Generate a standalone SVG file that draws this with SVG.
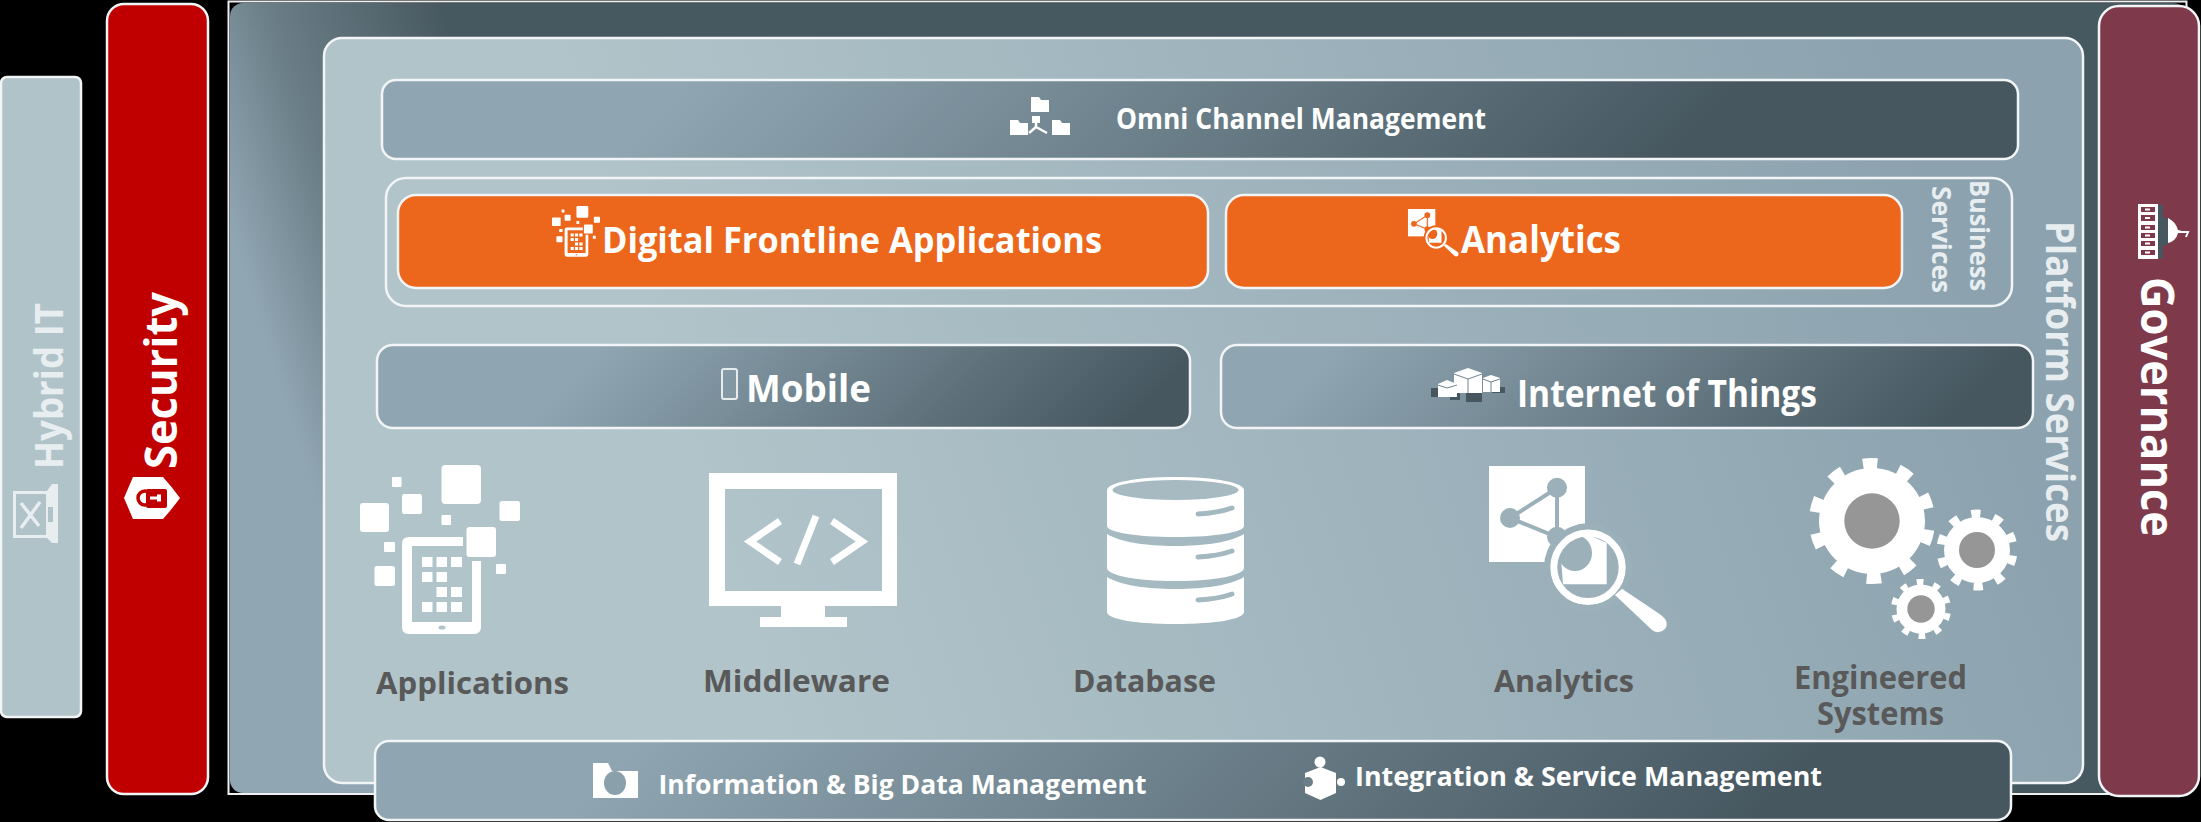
<svg xmlns="http://www.w3.org/2000/svg" xmlns:xlink="http://www.w3.org/1999/xlink" width="2201" height="822" viewBox="0 0 2201 822">
<style>
text{font-family:"Open Sans","Noto Sans","Liberation Sans",sans-serif;font-weight:700;fill:#fff}
.box{stroke:#f2f4f5;stroke-width:2.5}
.lab{fill:#595959;font-weight:700}
.w{fill:#fff}
.hub{fill:#969696}
.soft{fill:#e8eef0}
</style>
<defs>
<linearGradient id="gOuter" gradientUnits="userSpaceOnUse" x1="143" y1="-45" x2="400" y2="-127"><stop offset="0" stop-color="#90a6b2"/><stop offset=".37" stop-color="#6b7f88"/><stop offset=".95" stop-color="#4a5b63"/><stop offset="1" stop-color="#465860"/></linearGradient>
<linearGradient id="gInner" gradientUnits="userSpaceOnUse" x1="700" y1="500" x2="1900" y2="100"><stop offset="0" stop-color="#b1c4ca"/><stop offset="1" stop-color="#8ca3af"/></linearGradient>
<linearGradient id="gOmni" gradientUnits="userSpaceOnUse" x1="600" y1="170" x2="1130" y2="700"><stop offset="0" stop-color="#8fa6b2"/><stop offset="1" stop-color="#465760"/></linearGradient>
<linearGradient id="gMob" gradientUnits="userSpaceOnUse" x1="700" y1="250" x2="1000" y2="550"><stop offset="0" stop-color="#8fa6b2"/><stop offset="1" stop-color="#465760"/></linearGradient>
<linearGradient id="gIot" gradientUnits="userSpaceOnUse" x1="1300" y1="380" x2="1645" y2="725"><stop offset="0" stop-color="#8fa6b2"/><stop offset="1" stop-color="#465760"/></linearGradient>
<linearGradient id="gBot" gradientUnits="userSpaceOnUse" x1="600" y1="770" x2="1205" y2="1375"><stop offset="0" stop-color="#8fa6b2"/><stop offset="1" stop-color="#465760"/></linearGradient>
<g id="appIcon">
<g class="w">
<rect x="441.5" y="465" width="39.5" height="39" rx="4"/>
<rect x="392" y="477" width="9.500" height="10" rx="1"/>
<rect x="402" y="494" width="20" height="20" rx="2.500"/>
<rect x="360" y="503" width="29" height="29" rx="3"/>
<rect x="499.500" y="501" width="20.500" height="20" rx="2.500"/>
<rect x="441.500" y="515" width="9.500" height="10" rx="1"/>
<rect x="466.500" y="527" width="29.500" height="30" rx="3"/>
<rect x="384" y="542" width="11" height="10" rx="1"/>
<rect x="374.500" y="566" width="20.500" height="20" rx="2.500"/>
<rect x="496" y="564" width="10" height="10" rx="1"/>
<path d="M463 537H409Q402 537 402 544V627Q402 634 409 634H474Q481 634 481 627V561H472V622H412V546H463Z"/>
<path d="M422 557h10.500v10h-10.500zM436.500 557h10.500v10h-10.500zM451 557h11v10h-11zM422 572h10.500v10h-10.500zM436.500 572h10.500v10h-10.500zM436.500 587h10.500v10h-10.500zM451 587h11v10h-11zM422 602h10.500v10h-10.500zM436.500 602h10.500v10h-10.500zM451 602h11v10h-11z"/>
</g>
<ellipse cx="442" cy="627.500" rx="3.500" ry="2" fill="currentColor"/>
</g>
<g id="anaIcon">
<rect class="w" x="1489" y="466" width="96" height="96"/>
<path d="M1557 488L1510 518L1557 537Z" fill="none" stroke="currentColor" stroke-width="4"/>
<g fill="currentColor"><circle cx="1557" cy="487.700" r="10"/><circle cx="1510" cy="518" r="10"/><circle cx="1557" cy="536.700" r="10"/></g>
<circle cx="1588" cy="567.300" r="44" fill="currentColor"/>
<path class="w" d="M1563 584.300H1606.700V543L1585 533L1560 545Z"/>
<ellipse cx="1575" cy="553" rx="17" ry="18" fill="currentColor"/>
<circle cx="1588" cy="567.300" r="34.200" fill="none" stroke="#fff" stroke-width="7"/>
<path class="w" d="M1622 588.700L1661 615Q1670 622 1665 629Q1659 635 1652 630L1615 595Z"/>
</g>
</defs>
<rect width="2201" height="822" fill="#000"/>

<g id="hybrid-it">
<rect class="box" x="1" y="77" width="80" height="640" rx="6" fill="#b0c3c9" stroke-width="2"/>
<path class="soft" fill-rule="evenodd" d="M13 491H47L52 484H58V543H52L47 538H13ZM16 494V535H46V494Z"/>
<rect x="48" y="507" width="5" height="15" fill="#b0c3c9"/>
<path d="M21 528L40 502M21 503L39 526" stroke="#e8eef0" stroke-width="3.500" fill="none"/>
<text class="soft" transform="translate(63 469) rotate(-90)" font-size="39" textLength="166" lengthAdjust="spacingAndGlyphs">Hybrid IT</text>
</g>

<g id="security">
<rect class="box" x="107" y="4" width="101" height="790" rx="17" fill="#c00000"/>
<path class="w" d="M124 498L133 477H163Q172 487 180 498Q172 509 163 519H133Z"/>
<rect x="146" y="489" width="21" height="19" rx="2" fill="#c00000"/>
<circle cx="145" cy="498" r="7" fill="none" stroke="#c00000" stroke-width="3.500"/>
<path class="w" d="M150 496.500h7v-2h4v7h-4v-2h-7z"/>
<text transform="translate(177 469) rotate(-90)" font-size="44" textLength="177" lengthAdjust="spacingAndGlyphs">Security</text>
</g>

<g id="outer-frame">
<rect x="228.500" y="1.500" width="1958" height="792.500" fill="none" stroke="#eef0f1" stroke-width="2"/>
<rect x="230" y="3" width="1956" height="790" rx="13" fill="url(#gOuter)"/>
</g>

<g id="platform-services">
<rect class="box" x="324" y="38" width="1759" height="745" rx="18" fill="url(#gInner)"/>
<text class="soft" transform="translate(2046 221) rotate(90)" font-size="39" textLength="321" lengthAdjust="spacingAndGlyphs">Platform Services</text>
</g>

<g id="omni-channel">
<rect class="box" x="382" y="80" width="1636" height="79" rx="14" fill="url(#gOmni)"/>
<path class="w" d="M1031 97h8l2 3h8v12h-18zM1010 120h8l2 3h8v12h-18zM1052 120h8l2 3h8v12h-18z"/>
<path class="w" d="M1032 116h8v7h-8z"/>
<path d="M1036 122V127M1029 133L1036 127L1047 133" fill="none" stroke="#fff" stroke-width="2.500"/>
<text x="1116" y="129" font-size="29" textLength="370" lengthAdjust="spacingAndGlyphs">Omni Channel Management</text>
</g>

<g id="business-services">
<rect class="box" x="386" y="178" width="1626" height="128" rx="20" fill="none"/>
<text class="soft" transform="translate(1970 180) rotate(90)" font-size="27" textLength="111" lengthAdjust="spacingAndGlyphs">Business</text>
<text class="soft" transform="translate(1932 186) rotate(90)" font-size="27" textLength="107" lengthAdjust="spacingAndGlyphs">Services</text>
</g>

<g id="digital-frontline">
<rect class="box" x="398" y="195" width="810" height="93" rx="18" fill="#ec661c"/>
<use xlink:href="#appIcon" href="#appIcon" transform="translate(444 66.500) scale(.3)" color="#ec661c"/>
<text x="602" y="253" font-size="36" textLength="500" lengthAdjust="spacingAndGlyphs">Digital Frontline Applications</text>
</g>

<g id="analytics-service">
<rect class="box" x="1226" y="195" width="676" height="93" rx="18" fill="#ec661c"/>
<use xlink:href="#anaIcon" href="#anaIcon" transform="translate(983.600 76.200) scale(.285)" color="#ec661c"/>
<text x="1461" y="253" font-size="37" textLength="160" lengthAdjust="spacingAndGlyphs">Analytics</text>
</g>

<g id="mobile">
<rect class="box" x="377" y="345" width="813" height="83" rx="16" fill="url(#gMob)"/>
<rect x="722" y="369" width="15" height="30" rx="2" fill="#90a6b2" fill-opacity=".4" stroke="#e6ebee" stroke-width="2"/>
<text x="746" y="402" font-size="37" textLength="125" lengthAdjust="spacingAndGlyphs">Mobile</text>
</g>

<g id="iot">
<rect class="box" x="1221" y="345" width="812" height="83" rx="16" fill="url(#gIot)"/>
<path fill="#46575f" d="M1431 388h10v9h-10zM1466 393h16v9h-16zM1492 387h13v6h-13zM1450 392h10v8h-10z"/>
<path class="w" d="M1454 373L1468 368L1482 373V393H1454ZM1438 384L1447 380L1457 384V397H1438ZM1483 378L1491 375L1500 378V392H1483Z"/>
<path d="M1454 374L1468 379L1482 374M1468 379V393M1438 385L1447 388L1457 385M1483 379L1491 382L1500 379M1491 382V392" fill="none" stroke="#6f848d" stroke-width="1"/>
<text x="1517" y="407" font-size="37" textLength="300" lengthAdjust="spacingAndGlyphs">Internet of Things</text>
</g>

<g id="applications">
<use xlink:href="#appIcon" href="#appIcon" color="#b0c3c9"/>
<text class="lab" x="376" y="694" font-size="31" textLength="193" lengthAdjust="spacingAndGlyphs">Applications</text>
</g>

<g id="middleware">
<path class="w" fill-rule="evenodd" d="M709 473H897V606H825V617H847V627H760V617H781V606H709ZM725 489V591H882V489Z"/>
<path d="M780 521L750 541.500L780 562M832 521L862 541.500L832 562M816 516L797 564" fill="none" stroke="#fff" stroke-width="7"/>
<text class="lab" x="703" y="692" font-size="31" textLength="187" lengthAdjust="spacingAndGlyphs">Middleware</text>
</g>

<g id="database">
<path class="w" d="M1107 490C1107 483 1135 477 1175.500 477C1216 477 1244 483 1244 490V526C1244 532 1216 537 1175.500 537C1135 537 1107 532 1107 526Z"/>
<ellipse cx="1175.500" cy="490" rx="63" ry="10" fill="#a7bac2"/>
<path class="w" d="M1107 534C1120 542 1145 546 1175.500 546C1206 546 1231 542 1244 534V568C1244 575 1216 581 1175.500 581C1135 581 1107 575 1107 568Z"/>
<path class="w" d="M1107 577C1120 585 1145 589 1175.500 589C1206 589 1231 585 1244 577V612C1244 619 1216 624 1175.500 624C1135 624 1107 619 1107 612Z"/>
<path d="M1198 514Q1218 513 1232 508M1198 557Q1218 556 1232 551M1198 600Q1218 599 1232 594" fill="none" stroke="#a4b8c0" stroke-width="5" stroke-linecap="round"/>
<text class="lab" x="1073" y="692" font-size="31" textLength="143" lengthAdjust="spacingAndGlyphs">Database</text>
</g>

<g id="analytics">
<use xlink:href="#anaIcon" href="#anaIcon" color="#9bb0b9"/>
<text class="lab" x="1494" y="692" font-size="31" textLength="140" lengthAdjust="spacingAndGlyphs">Analytics</text>
</g>

<g id="engineered-systems">
<g fill="none" stroke="#fff">
<circle cx="1872" cy="521" r="57.500" stroke-width="11" pathLength="20" stroke-dasharray=".8 1.200" transform="rotate(-99 1872 521)"/>
<circle cx="1977" cy="550" r="36.500" stroke-width="8" pathLength="20" stroke-dasharray=".8 1.200" transform="rotate(-99 1977 550)"/>
<circle cx="1921" cy="609" r="27" stroke-width="6" pathLength="20" stroke-dasharray=".8 1.200" transform="rotate(-99 1921 609)"/>
</g>
<circle class="w" cx="1872" cy="521" r="53"/><circle class="w" cx="1977" cy="550" r="33"/><circle class="w" cx="1921" cy="609" r="24.500"/>
<circle class="hub" cx="1872" cy="521" r="27.700"/><circle class="hub" cx="1977" cy="550" r="18"/><circle class="hub" cx="1921" cy="609" r="13.700"/>
<text class="lab" x="1794" y="689" font-size="32" textLength="173" lengthAdjust="spacingAndGlyphs">Engineered</text>
<text class="lab" x="1817" y="725" font-size="32" textLength="127" lengthAdjust="spacingAndGlyphs">Systems</text>
</g>

<g id="data-integration">
<rect class="box" x="375" y="741" width="1636" height="79" rx="14" fill="url(#gBot)"/>
<path class="w" d="M593 763H608L612 771H638V798H593Z"/>
<ellipse cx="615" cy="783" rx="11" ry="12" fill="#8aa0ab"/>
<text x="658.500" y="794" font-size="27" textLength="488" lengthAdjust="spacingAndGlyphs">Information &amp; Big Data Management</text>
<circle class="w" cx="1320" cy="762" r="5.500"/>
<path class="w" d="M1305 773L1320.500 767L1336 773V793L1320.500 800L1305 793Z"/>
<circle class="w" cx="1341" cy="782" r="4"/>
<circle cx="1308" cy="782" r="5" fill="#6b7f88"/>
<text x="1355" y="786" font-size="27" textLength="467" lengthAdjust="spacingAndGlyphs">Integration &amp; Service Management</text>
</g>

<g id="governance">
<rect class="box" x="2099" y="6" width="100" height="790" rx="20" fill="#7e3a4a" stroke-width="2"/>
<rect class="w" x="2138" y="204" width="20" height="55"/>
<path fill="#7e3a4a" d="M2141 207h14v5h-14zM2141 215h14v6h-14zM2141 225h14v5h-14zM2141 233h14v5h-14zM2141 241h14v5h-14zM2141 250h14v5h-14z"/>
<path class="w" d="M2145 208.500h5v2h-5zM2145 217h5v2h-5zM2145 226.500h5v2h-5zM2145 234.500h5v2h-5zM2145 242.500h5v2h-5zM2145 251.500h5v2h-5z"/>
<path fill="#465760" d="M2158 205h5v13h5v27h-5v13h-5z"/>
<path class="w" d="M2168 218Q2176 222 2178 230L2182 231V233L2178 233Q2176 241 2168 243Z"/>
<path d="M2180 232H2188L2186 237" fill="none" stroke="#fff" stroke-width="2"/>
<text transform="translate(2141 277) rotate(90)" font-size="46" textLength="260" lengthAdjust="spacingAndGlyphs">Governance</text>
</g>
</svg>
